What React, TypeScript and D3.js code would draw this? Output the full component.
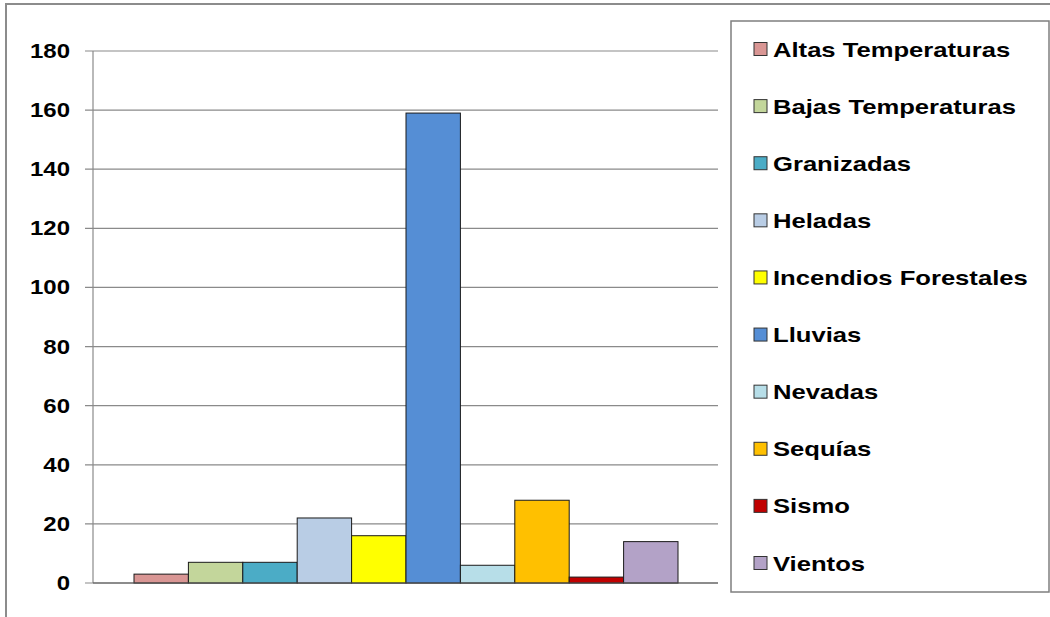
import React from 'react';
import * as d3 from 'd3';

// series (one category, ten grouped bars)
const names = [
  'Altas Temperaturas',
  'Bajas Temperaturas',
  'Granizadas',
  'Heladas',
  'Incendios Forestales',
  'Lluvias',
  'Nevadas',
  'Sequías',
  'Sismo',
  'Vientos',
];
const values = [3, 7, 7, 22, 16, 159, 6, 28, 2, 14];
const colors = [
  '#D99694', '#C3D69B', '#4BACC6', '#B9CDE5', '#FFFF00',
  '#558ED5', '#B7DEE8', '#FFC000', '#C00000', '#B3A2C7',
];
const yTicks = [0, 20, 40, 60, 80, 100, 120, 140, 160, 180];

const W = 1050, H = 617;
const P = { l: 93, r: 718, t: 51, b: 583 };
const SX = 1.2;   // text in the source is stretched horizontally
const LSX = 1.25; // legend text a bit wider still
const font = 'Arial, "Liberation Sans", sans-serif';

export default function App() {
  const x = d3.scaleBand<string>().domain(names).range([134, 678]).paddingInner(0);
  const y = d3.scaleLinear().domain([0, 180]).range([P.b, P.t]);
  const grid = '#8a8a8a';

  const legendY = d3.scalePoint<string>().domain(names).range([49, 563]);

  return (
    <svg
      width={W}
      height={H}
      style={{ position: 'fixed', left: 0, top: 0, background: '#fff' }}
      fontFamily={font}
    >
      <rect width={W} height={H} fill="#fff" />
      {/* outer chart frame (right/bottom edges fall outside the crop) */}
      <rect x={6} y={4} width={W + 10} height={H + 10} fill="none" stroke="#8c8c8c" strokeWidth={2} />

      {/* gridlines + y axis */}
      {yTicks.map(t => (
        <g key={t}>
          <line x1={85} x2={P.r} y1={y(t)} y2={y(t)} stroke={grid} strokeWidth={1.2} />
          <text
            transform={`translate(70,${y(t) + 7}) scale(${SX},1)`}
            textAnchor="end"
            fontSize={20}
            fontWeight="bold"
            fill="#000"
          >
            {t}
          </text>
        </g>
      ))}
      <line x1={P.l} x2={P.l} y1={P.t} y2={P.b} stroke={grid} strokeWidth={1.2} />

      {/* bars */}
      {names.map((n, i) => (
        <rect
          key={n}
          x={x(n)}
          y={y(values[i])}
          width={x.bandwidth()}
          height={y(0) - y(values[i])}
          fill={colors[i]}
          stroke="#1a1a1a"
          strokeWidth={1}
        />
      ))}
      <line x1={P.l} x2={P.r} y1={y(0)} y2={y(0)} stroke="#555" strokeWidth={1.2} />

      {/* legend */}
      <rect x={731} y={21} width={318} height={571} fill="#fff" stroke="#7f7f7f" strokeWidth={1.5} />
      {names.map((n, i) => {
        const cy = legendY(n) as number;
        return (
          <g key={n}>
            <rect x={754} y={cy - 6.5} width={13} height={13} fill={colors[i]} stroke="#333" strokeWidth={1} />
            <text
              transform={`translate(773,${cy + 7.5}) scale(${LSX},1)`}
              fontSize={20.5}
              fontWeight="bold"
              fill="#000"
            >
              {n}
            </text>
          </g>
        );
      })}
    </svg>
  );
}
